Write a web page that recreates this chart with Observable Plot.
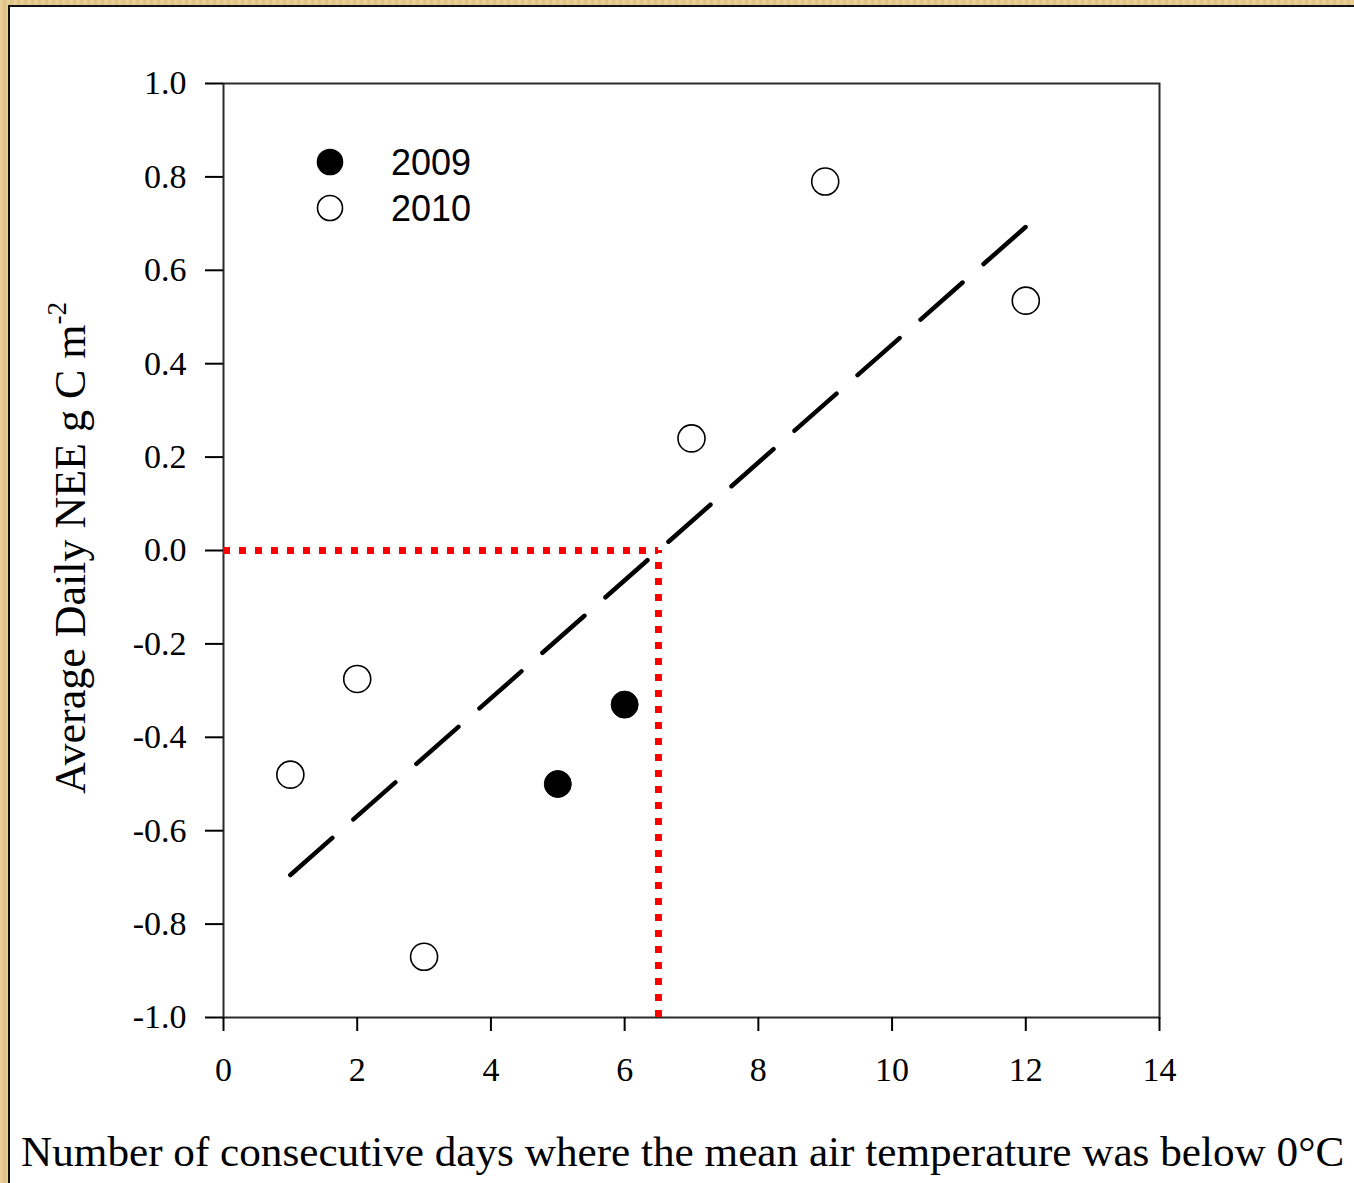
<!DOCTYPE html>
<html>
<head>
<meta charset="utf-8">
<script src="https://cdn.jsdelivr.net/npm/d3@7"></script>
<script src="https://cdn.jsdelivr.net/npm/@observablehq/plot@0.6"></script>
<style>
  html, body { margin: 0; padding: 0; width: 1354px; height: 1183px; overflow: hidden; }
  body {
    position: relative;
    background-color: #e4c98c;
    background-image: repeating-linear-gradient(90deg, rgba(255,255,255,0.18) 0px, rgba(255,255,255,0.0) 3px, rgba(160,120,40,0.12) 5px, rgba(255,255,255,0.1) 7px);
  }
  #panel {
    position: absolute; left: 8px; top: 5px; width: 1400px; height: 1300px;
    background: #ffffff; border-left: 2px solid #111; border-top: 2px solid #111;
  }
  #chart { position: absolute; left: 0; top: 0; }
  .serif { font-family: "Liberation Serif", "Times New Roman", serif; color: #000; }
  #ylabel {
    position: absolute; left: 71px; top: 548px; white-space: nowrap; line-height: 1;
    font-size: 44px; transform: translate(-50%, -50%) rotate(-90deg);
  }
  #ylabel sup { font-size: 27px; vertical-align: 0.7em; line-height: 0; }
  #xlabel {
    position: absolute; left: 21px; top: 1130px; white-space: nowrap; line-height: 1;
    font-size: 43.2px;
  }
  #legend { position: absolute; left: 0; top: 0; }
</style>
</head>
<body>
<div id="panel"></div>
<div id="chart"></div>
<div id="ylabel" class="serif">Average Daily NEE g C m<sup>-2</sup></div>
<div id="xlabel" class="serif">Number of consecutive days where the mean air temperature was below 0°C</div>
<div id="legend"></div>
<script>
// ---- data ----
const years = ["2009", "2010"];
const days2009 = [5, 6];
const nee2009 = [-0.50, -0.33];
const days2010 = [1, 2, 3, 7, 9, 12];
const nee2010 = [-0.48, -0.275, -0.87, 0.24, 0.79, 0.535];
const xTicks = [0, 2, 4, 6, 8, 10, 12, 14];
const yTicks = [-1.0, -0.8, -0.6, -0.4, -0.2, 0.0, 0.2, 0.4, 0.6, 0.8, 1.0];

const pts2009 = days2009.map((d, i) => ({year: "2009", days: d, nee: nee2009[i]}));
const pts2010 = days2010.map((d, i) => ({year: "2010", days: d, nee: nee2010[i]}));
const all = pts2009.concat(pts2010);

// least-squares fit over all points
const mx = d3.mean(all, d => d.days), my = d3.mean(all, d => d.nee);
const sxy = d3.sum(all, d => (d.days - mx) * (d.nee - my));
const sxx = d3.sum(all, d => (d.days - mx) ** 2);
const slope = sxy / sxx, intercept = my - slope * mx;
const [xmin, xmax] = d3.extent(all, d => d.days);
const fit = [xmin, xmax].map(x => ({days: x, nee: intercept + slope * x}));
const x0 = -intercept / slope;

const W = 1354, H = 1100;
const chart = Plot.plot({
  width: W, height: H,
  marginLeft: 223, marginRight: W - 1159, marginTop: 83, marginBottom: H - 1017,
  style: {background: "transparent", fontFamily: "Liberation Serif, Times New Roman, serif", fontSize: "34px", color: "#000"},
  x: {domain: [0, 14]},
  y: {domain: [-1, 1]},
  marks: [
    Plot.frame({stroke: "#2a2a2a", strokeWidth: 2}),
    Plot.axisX({ticks: xTicks, tickSize: 14, tickPadding: 25, strokeWidth: 2, label: null, tickFormat: d => String(d), fontSize: 34}),
    Plot.axisY({ticks: yTicks, tickSize: 18, tickPadding: 19, strokeWidth: 2, label: null, tickFormat: d => d.toFixed(1), fontSize: 34}),
    Plot.ruleY([0], {x1: 0, x2: x0, stroke: "#ff0000", strokeWidth: 7, strokeDasharray: "7,9"}),
    Plot.ruleX([x0], {y1: -1, y2: 0, stroke: "#ff0000", strokeWidth: 7, strokeDasharray: "7,9"}),
    Plot.line(fit, {x: "days", y: "nee", stroke: "#000", strokeWidth: 4.5, strokeDasharray: "56,28"}),
    Plot.dot(pts2010, {x: "days", y: "nee", r: 13.5, fill: "#fff", stroke: "#000", strokeWidth: 1.6}),
    Plot.dot(pts2009, {x: "days", y: "nee", r: 13.5, fill: "#000", stroke: "#000", strokeWidth: 1})
  ]
});
document.getElementById("chart").appendChild(chart);

// legend
const leg = document.getElementById("legend");
const legSpec = [
  {year: years[0], cy: 162, fill: "#000"},
  {year: years[1], cy: 208, fill: "#fff"}
];
const svgNS = "http://www.w3.org/2000/svg";
const lsvg = document.createElementNS(svgNS, "svg");
lsvg.setAttribute("width", 600); lsvg.setAttribute("height", 260);
lsvg.style.position = "absolute"; lsvg.style.left = "0px"; lsvg.style.top = "0px";
legSpec.forEach(s => {
  const c = document.createElementNS(svgNS, "circle");
  c.setAttribute("cx", 330); c.setAttribute("cy", s.cy); c.setAttribute("r", 12.5);
  c.setAttribute("fill", s.fill); c.setAttribute("stroke", "#000"); c.setAttribute("stroke-width", 1.6);
  lsvg.appendChild(c);
  const t = document.createElementNS(svgNS, "text");
  t.setAttribute("x", 391); t.setAttribute("y", s.cy + 13);
  t.setAttribute("font-family", "Liberation Sans, Arial, sans-serif");
  t.setAttribute("font-size", 36);
  t.textContent = s.year;
  lsvg.appendChild(t);
});
leg.appendChild(lsvg);
</script>
</body>
</html>
